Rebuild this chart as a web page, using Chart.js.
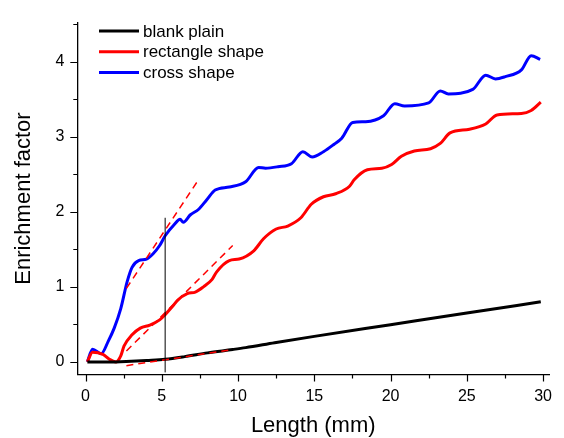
<!DOCTYPE html>
<html>
<head>
<meta charset="utf-8">
<script src="https://cdn.jsdelivr.net/npm/chart.js@4/dist/chart.umd.min.js"></script>
<style>
  html, body { margin: 0; padding: 0; background: #fff; }
  #wrap { width: 564px; height: 438px; }
</style>
</head>
<body>
<div id="wrap"><canvas id="chart" width="564" height="438"></canvas></div>
<script>
// Enrichment factor vs length, three channel shapes

const seriesLabels = ['blank plain', 'rectangle shape', 'cross shape'];
const seriesColors = ['#000000', '#ff0000', '#0000ff'];

const blankX = [0.12, 2, 3, 4, 5.22, 6.5, 8, 9.65, 10.5, 12.4, 15, 20, 25, 29.85];
const blankY = [0, 0, 0.01, 0.02, 0.035, 0.07, 0.12, 0.165, 0.19, 0.255, 0.34, 0.495, 0.65, 0.8];

const rectX = [0.12, 0.46, 1.14, 1.56, 2.0, 2.31, 2.52, 3.05, 3.59, 4.22, 4.86, 5.22, 5.71, 6.03,
  6.67, 7.2, 7.73, 8.3, 8.6, 9.43, 10.07, 11.03, 11.67, 12.5, 13.26, 14.12, 14.8, 15.6, 16.4,
  17.31, 17.63, 18.48, 19.43, 20.07, 20.71, 21.56, 22.62, 23.26, 23.9, 25.18, 26.24, 26.98,
  28.58, 29.22, 29.85];
const rectY = [0, 0.13, 0.1, 0.035, 0, 0.08, 0.21, 0.36, 0.45, 0.49, 0.56, 0.63, 0.74, 0.82,
  0.91, 0.93, 1.0, 1.1, 1.2, 1.35, 1.37, 1.48, 1.64, 1.77, 1.81, 1.92, 2.1, 2.2, 2.24,
  2.34, 2.43, 2.56, 2.58, 2.63, 2.74, 2.81, 2.84, 2.91, 3.05, 3.1, 3.17, 3.29,
  3.31, 3.35, 3.46];

const crossX = [0.12, 0.46, 1.03, 1.5, 1.88, 2.31, 2.73, 3.05, 3.48, 4.0, 4.43, 4.86, 5.22, 5.82,
  6.2, 6.41, 6.88, 7.4, 7.95, 8.5, 9.43, 10.5, 11.35, 11.8, 12.62, 13.5, 14.25, 14.86, 15.6,
  16.3, 16.8, 17.52, 18.37, 19.54, 20.28, 20.92, 22.5, 23.26, 23.79, 25.39, 26.24, 26.88,
  27.52, 28.58, 29.22, 29.81];
const crossY = [0, 0.17, 0.11, 0.28, 0.45, 0.71, 1.07, 1.26, 1.35, 1.37, 1.44, 1.55, 1.68, 1.83,
  1.9, 1.86, 1.96, 2.03, 2.16, 2.29, 2.33, 2.4, 2.59, 2.58, 2.6, 2.64, 2.8, 2.73, 2.8,
  2.9, 2.98, 3.19, 3.2, 3.28, 3.44, 3.41, 3.45, 3.61, 3.57, 3.63, 3.82, 3.77,
  3.8, 3.89, 4.08, 4.03];

// red dashed tangents and the vertical marker at 5.22 mm
const crossTanX = [2.68, 7.42];
const crossTanY = [0.98, 2.43];
const rectTanX = [2.68, 9.65];
const rectTanY = [0.145, 1.55];
const blankTanX = [2.68, 9.65];
const blankTanY = [-0.05, 0.165];
const markerX = [5.22, 5.22];
const markerY = [-0.14, 1.92];

const xMajor = [0, 5, 10, 15, 20, 25, 30];
const xMinor = [2.5, 7.5, 12.5, 17.5, 22.5, 27.5];
const yMajor = [0, 1, 2, 3, 4];
const yMinor = [0.5, 1.5, 2.5, 3.5, 4.5];

const FONT = '"Liberation Sans", Arial, sans-serif';

function pts(xs, ys) {
    return xs.map((x, i) => ({ x: x, y: ys[i] }));
}

function curve(label, xs, ys, color) {
    return {
        label: label,
        data: pts(xs, ys),
        borderColor: color,
        borderWidth: 3,
        pointRadius: 0,
        cubicInterpolationMode: 'monotone',
        showLine: true,
        fill: false
    };
}

function guide(xs, ys, color, width, dash) {
    return {
        label: '',
        data: pts(xs, ys),
        borderColor: color,
        borderWidth: width,
        borderDash: dash,
        pointRadius: 0,
        showLine: true,
        fill: false
    };
}

// tick marks (major longer than minor), drawn outside the axes
const tickMarks = {
    id: 'tickMarks',
    afterDraw(chart) {
        const ctx = chart.ctx;
        const xs = chart.scales.x, ys = chart.scales.y;
        const area = chart.chartArea;
        ctx.save();
        ctx.strokeStyle = '#000';
        ctx.lineWidth = 1.2;
        ctx.beginPath();
        xMajor.forEach(v => { const p = Math.round(xs.getPixelForValue(v)) + 0.5; ctx.moveTo(p, area.bottom); ctx.lineTo(p, area.bottom + 7); });
        xMinor.forEach(v => { const p = Math.round(xs.getPixelForValue(v)) + 0.5; ctx.moveTo(p, area.bottom); ctx.lineTo(p, area.bottom + 4); });
        yMajor.forEach(v => { const p = Math.round(ys.getPixelForValue(v)) + 0.5; ctx.moveTo(area.left, p); ctx.lineTo(area.left - 7, p); });
        yMinor.forEach(v => { const p = Math.round(ys.getPixelForValue(v)) + 0.5; ctx.moveTo(area.left, p); ctx.lineTo(area.left - 4, p); });
        ctx.stroke();
        ctx.restore();
    }
};

// legend in the upper left corner of the plot
const cornerLegend = {
    id: 'cornerLegend',
    afterDraw(chart) {
        const ctx = chart.ctx;
        ctx.save();
        ctx.font = '17px ' + FONT;
        ctx.textBaseline = 'middle';
        seriesLabels.forEach((lab, i) => {
            const y = 31 + i * 20.7;
            ctx.strokeStyle = seriesColors[i];
            ctx.lineWidth = 3;
            ctx.beginPath();
            ctx.moveTo(99, y);
            ctx.lineTo(139, y);
            ctx.stroke();
            ctx.fillStyle = '#000';
            ctx.fillText(lab, 143, y + 1);
        });
        ctx.restore();
    }
};

const ctx = document.getElementById('chart');

new Chart(ctx, {
    type: 'scatter',
    data: {
        datasets: [
            guide(markerX, markerY, '#000000', 1, []),
            guide(blankTanX, blankTanY, '#ff0000', 1.5, [7, 5]),
            guide(rectTanX, rectTanY, '#ff0000', 1.5, [7, 5]),
            guide(crossTanX, crossTanY, '#ff0000', 1.5, [7, 5]),
            curve(seriesLabels[0], blankX, blankY, seriesColors[0]),
            curve(seriesLabels[1], rectX, rectY, seriesColors[1]),
            curve(seriesLabels[2], crossX, crossY, seriesColors[2])
        ]
    },
    options: {
        responsive: false,
        animation: false,
        layout: { padding: { top: 17, right: 2, left: 0, bottom: 0 } },
        plugins: {
            legend: { display: false },
            tooltip: { enabled: false }
        },
        scales: {
            x: {
                type: 'linear',
                min: -0.54,
                max: 30.4,
                afterBuildTicks: s => { s.ticks = xMajor.map(v => ({ value: v })); },
                afterFit: s => { s.height = 63.5; },
                grid: { display: false, drawTicks: false },
                border: { display: true, color: '#000', width: 1.3 },
                ticks: {
                    color: '#000',
                    padding: 12,
                    maxRotation: 0,
                    font: { family: FONT, size: 16 }
                },
                title: {
                    display: true,
                    text: 'Length (mm)',
                    color: '#000',
                    font: { family: FONT, size: 22, lineHeight: 1.0 },
                    padding: { top: 1, bottom: 1 }
                }
            },
            y: {
                type: 'linear',
                min: -0.168,
                max: 4.52,
                afterBuildTicks: s => { s.ticks = yMajor.map(v => ({ value: v })); },
                afterFit: s => { s.width = 77.3; },
                grid: { display: false, drawTicks: false },
                border: { display: true, color: '#000', width: 1.3 },
                ticks: {
                    color: '#000',
                    padding: 13,
                    font: { family: FONT, size: 16 }
                },
                title: {
                    display: true,
                    text: 'Enrichment factor',
                    color: '#000',
                    font: { family: FONT, size: 22, lineHeight: 1.2 },
                    padding: { top: 11, bottom: 0 }
                }
            }
        }
    },
    plugins: [tickMarks, cornerLegend]
});
</script>
</body>
</html>
